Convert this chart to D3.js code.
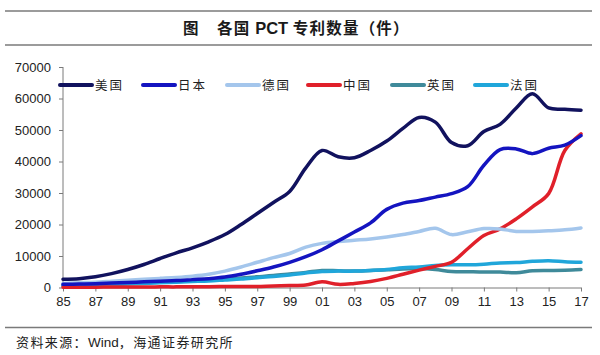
<!DOCTYPE html>
<html><head><meta charset="utf-8">
<script src="https://cdn.jsdelivr.net/npm/d3@7"></script>
<style>
html,body{margin:0;padding:0;background:#fff;}
svg{display:block;}
</style>
</head><body>
<svg id="chart" width="600" height="355"></svg>
<script>
const years = d3.range(1985, 2018);
const tickYears = [1985,1987,1989,1991,1993,1995,1997,1999,2001,2003,2005,2007,2009,2011,2013,2015,2017];
const yTicks = [0,10000,20000,30000,40000,50000,60000,70000];
const seriesNames = ["美国","日本","德国","中国","英国","法国"];
const usa = [2600,2800,3400,4400,5700,7300,9200,11000,12600,14500,16800,20000,23500,27000,30500,38000,43500,41500,41200,43500,46500,50500,54000,52500,46000,45000,49500,51800,57000,61500,57000,56600,56300];
const japan = [1000,1100,1200,1400,1600,1800,2000,2200,2500,2800,3300,4200,5300,6500,8000,9800,12000,14800,17600,20500,24800,26800,27600,28700,29800,32000,38800,43800,44000,42500,44200,45200,48200];
const germany = [1300,1500,1700,2000,2300,2600,2900,3200,3600,4200,5200,6500,8000,9500,10800,12800,14000,14600,15000,15400,16000,16800,17800,18800,16800,17700,18700,18600,17800,17800,18000,18300,18900];
const china = [100,100,100,150,150,150,200,200,250,250,300,300,350,500,600,800,1800,1000,1300,1900,2900,4200,5500,6700,8000,12300,16500,18600,21800,25600,29800,43500,48800];
const uk = [700,800,900,1100,1300,1500,1700,1900,2100,2300,2600,3000,3400,3800,4300,4800,5400,5300,5200,5400,5600,5900,6000,5700,5100,5000,4900,4900,4700,5300,5400,5500,5700];
const france = [500,600,700,900,1100,1300,1500,1700,1900,2100,2400,2700,3100,3500,4000,4600,5100,5200,5200,5400,5700,6300,6500,7000,7200,7200,7400,7800,7900,8300,8500,8200,8000];
const colors = ["#11125e","#1414c0","#a4c6ec","#e0202a","#3f8a9a","#20a6da"];
const allSeries = [usa, japan, germany, china, uk, france];

const svg = d3.select("#chart");
const x = d3.scaleLinear().domain([1985, 2017]).range([63, 581]);
const y = d3.scaleLinear().domain([0, 70000]).range([287.5, 67]);
const grey = "#7a7a7a";

// header/footer rules
[11, 45, 327.5].forEach(yy => {
  svg.append("line").attr("x1", 5).attr("x2", 592).attr("y1", yy).attr("y2", yy)
    .attr("stroke", grey).attr("stroke-width", 1.5);
});

// title
const title = svg.append("text").attr("x", 183).attr("y", 34)
  .attr("font-family", "'Noto Sans CJK SC', sans-serif").attr("font-size", 15.5).attr("font-weight", "bold")
  .attr("letter-spacing", 1.2).attr("fill", "#1a1a1a");
title.append("tspan").text("图");
title.append("tspan").attr("x", 217).text("各国 ");
title.append("tspan").attr("font-family", "'Liberation Sans', Arial, sans-serif").attr("font-size", 16.5).attr("letter-spacing", 0).text("PCT");
title.append("tspan").text(" 专利数量（件）");

// footer
const foot = svg.append("text").attr("x", 16).attr("y", 347)
  .attr("font-family", "'Noto Sans CJK SC', sans-serif").attr("font-size", 13).attr("letter-spacing", 1.4).attr("fill", "#222");
foot.append("tspan").text("资料来源：");
foot.append("tspan").attr("font-family", "'Liberation Sans', Arial, sans-serif").attr("font-size", 13.5).attr("letter-spacing", 0).text("Wind");
foot.append("tspan").text("，海通证券研究所");

// axes
const yAxis = d3.axisLeft(y).tickValues(yTicks).tickSize(4).tickPadding(8).tickFormat(d3.format("d"));
const gy = svg.append("g").attr("transform", "translate(63,0)").call(yAxis);
gy.select(".domain").attr("stroke", grey).attr("d", `M-0.5,${y(0)}V${y(70000)}`).attr("transform","translate(0.5,0)");
gy.selectAll(".tick line").attr("stroke", grey);
gy.selectAll(".tick text").attr("font-family", "'Liberation Sans', Arial, sans-serif").attr("font-size", 13).attr("fill", "#222");

const xAxis = d3.axisBottom(x).tickValues(tickYears).tickSize(4).tickPadding(5)
  .tickFormat(d => String(d % 100).padStart(2, "0"));
const gx = svg.append("g").attr("transform", `translate(0,${y(0)})`).call(xAxis);
gx.select(".domain").attr("stroke", grey).attr("d", `M${x(1985)},0.5H${x(2017)}`);
gx.selectAll(".tick line").attr("stroke", grey);
gx.selectAll(".tick text").attr("font-family", "'Liberation Sans', Arial, sans-serif").attr("font-size", 13).attr("fill", "#222");

// lines
const line = d3.line().x((d, i) => x(years[i])).y(d => y(d)).curve(d3.curveCatmullRom.alpha(0.5));
const drawOrder = [4, 5, 3, 2, 1, 0];
drawOrder.forEach(k => {
  svg.append("path").datum(allSeries[k]).attr("d", line)
    .attr("fill", "none").attr("stroke", colors[k]).attr("stroke-width", 3.5)
    .attr("stroke-linejoin", "round").attr("stroke-linecap", "round");
});

// legend
const legendX = [60, 143, 227, 308, 392, 475];
const legY = 85;
seriesNames.forEach((name, k) => {
  const g = svg.append("g");
  g.append("line").attr("x1", legendX[k]).attr("x2", legendX[k] + 32).attr("y1", legY).attr("y2", legY)
    .attr("stroke", colors[k]).attr("stroke-width", 4).attr("stroke-linecap", "round");
  g.append("text").attr("x", legendX[k] + 35).attr("y", legY + 4.5)
    .attr("font-family", "'Noto Sans CJK SC', sans-serif").attr("font-size", 12.5).attr("fill", "#222")
    .attr("letter-spacing", 2).text(name);
});
</script>
</body></html>
